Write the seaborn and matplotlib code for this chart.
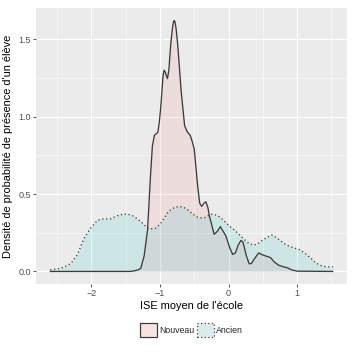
import pandas as pd
import seaborn as sns
import matplotlib.pyplot as plt
from matplotlib.patches import Patch

sns.set_theme(style="darkgrid")
plt.rcParams['font.family'] = ['Liberation Sans', 'DejaVu Sans']

# densité
x_nouveau = [-2.60, -1.60, -1.45, -1.38, -1.32, -1.28, -1.23, -1.18, -1.14, -1.11,
             -1.08, -1.05, -1.03, -1.01, -0.99, -0.97, -0.955, -0.94, -0.925, -0.91,
             -0.89, -0.87, -0.84, -0.815, -0.80, -0.79, -0.78, -0.765, -0.74, -0.69,
             -0.64, -0.60, -0.56, -0.53, -0.50, -0.45, -0.42, -0.39, -0.36, -0.33,
             -0.30, -0.28, -0.21, -0.16, -0.12, -0.08, -0.04, 0.02, 0.06, 0.10,
             0.14, 0.18, 0.21, 0.26, 0.30, 0.33, 0.39, 0.44, 0.48, 0.54,
             0.61, 0.67, 0.73, 0.80, 0.85, 0.92, 1.00, 1.52]
y_nouveau = [0.0, 0.0, 0.0, 0.003, 0.01, 0.02, 0.10, 0.27, 0.60, 0.81,
             0.88, 0.89, 0.90, 0.96, 1.05, 1.17, 1.26, 1.30, 1.29, 1.27,
             1.245, 1.30, 1.48, 1.58, 1.615, 1.62, 1.61, 1.57, 1.46, 1.16,
             0.94, 0.90, 0.88, 0.84, 0.79, 0.55, 0.44, 0.42, 0.44, 0.45,
             0.41, 0.36, 0.24, 0.26, 0.29, 0.26, 0.23, 0.15, 0.11, 0.12,
             0.17, 0.20, 0.19, 0.10, 0.05, 0.05, 0.09, 0.12, 0.11, 0.10,
             0.09, 0.06, 0.04, 0.03, 0.025, 0.01, 0.002, 0.0]

x_ancien = [-2.60, -2.44, -2.30, -2.20, -2.11, -2.01, -1.91, -1.82, -1.72, -1.62,
            -1.53, -1.47, -1.40, -1.33, -1.25, -1.18, -1.13, -1.06, -0.99, -0.93,
            -0.87, -0.80, -0.72, -0.66, -0.60, -0.52, -0.45, -0.39, -0.33, -0.26,
            -0.19, -0.12, -0.05, 0.02, 0.08, 0.15, 0.22, 0.30, 0.37, 0.43,
            0.49, 0.56, 0.63, 0.69, 0.75, 0.83, 0.90, 0.97, 1.04, 1.12,
            1.19, 1.26, 1.33, 1.42, 1.52]
y_ancien = [0.01, 0.02, 0.05, 0.11, 0.21, 0.28, 0.33, 0.34, 0.34, 0.36,
            0.37, 0.37, 0.36, 0.34, 0.31, 0.28, 0.275, 0.28, 0.31, 0.35,
            0.39, 0.41, 0.42, 0.415, 0.40, 0.37, 0.35, 0.345, 0.35, 0.37,
            0.365, 0.35, 0.32, 0.29, 0.27, 0.24, 0.21, 0.18, 0.17, 0.18,
            0.20, 0.22, 0.235, 0.22, 0.20, 0.175, 0.16, 0.15, 0.14, 0.115,
            0.09, 0.06, 0.04, 0.03, 0.03]

groupes = ["Nouveau", "Ancien"]
couleurs = {"Nouveau": "#F8766D", "Ancien": "#00BFC4"}
traits = {"Nouveau": "-", "Ancien": (0, (1, 2))}

df = pd.concat([
    pd.DataFrame({"ise": x_nouveau, "densite": y_nouveau, "groupe": "Nouveau"}),
    pd.DataFrame({"ise": x_ancien, "densite": y_ancien, "groupe": "Ancien"}),
])

fig = plt.figure(figsize=(356 / 72, 364 / 72), dpi=72)
ax = fig.add_axes([36 / 356, 80 / 364, 311 / 356, 276 / 364])
ax.set_facecolor("#EBEBEB")

for g in groupes:
    d = df[df["groupe"] == g]
    ax.fill_between(d["ise"], 0, d["densite"], color=couleurs[g], alpha=0.12, lw=0)
    sns.lineplot(data=d, x="ise", y="densite", ax=ax, color="#3A3A3A", lw=1.3,
                 linestyle=traits[g], sort=False, estimator=None)

ax.set_xlim(-2.806, 1.726)
ax.set_ylim(-0.081, 1.701)
ax.set_xticks([-2, -1, 0, 1])
ax.set_xticklabels(["\u22122", "\u22121", "0", "1"])
ax.set_xticks([-2.5, -1.5, -0.5, 0.5, 1.5], minor=True)
ax.set_yticks([0, 0.5, 1.0, 1.5])
ax.set_yticklabels(["0.0", "0.5", "1.0", "1.5"])
ax.set_yticks([0.25, 0.75, 1.25], minor=True)
ax.grid(which="major", color="white", lw=1.1)
ax.grid(which="minor", color="white", lw=0.55)
ax.tick_params(which="major", bottom=True, left=True, length=3, width=0.8,
               color="#333333", labelcolor="#4D4D4D", labelsize=9, pad=2)
ax.tick_params(which="minor", length=0)
for s in ax.spines.values():
    s.set_visible(False)

ax.set_xlabel("ISE moyen de l'école", fontsize=11, color="black", labelpad=3)
ax.set_ylabel("Densité de probabilité de présence d'un élève", fontsize=11,
              color="black", labelpad=5)

poignees = [Patch(facecolor=(0.97, 0.89, 0.88), edgecolor="#3A3A3A", lw=1.2,
                  linestyle="-", label="Nouveau"),
            Patch(facecolor=(0.86, 0.92, 0.92), edgecolor="#3A3A3A", lw=1.2,
                  linestyle=(0, (1, 2)), label="Ancien")]
fig.legend(handles=poignees, loc="center", bbox_to_anchor=(191.5 / 356, 1 - 330 / 364),
           ncol=2, frameon=False, fontsize=8.8, handlelength=1.9, handleheight=1.9,
           handletextpad=0.3, columnspacing=0.3)

fig.savefig("out.png", dpi=72)
